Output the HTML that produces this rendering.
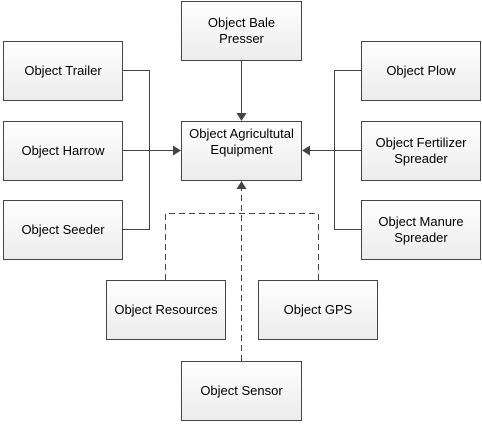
<!DOCTYPE html>
<html><head><style>
body{margin:0;background:#fff;width:482px;height:424px;position:relative;overflow:hidden;font-family:"Liberation Sans",Arial,sans-serif}
.b{position:absolute;box-sizing:border-box;border:1px solid #444;background:linear-gradient(#fff,#ececec);font-size:13px;color:#000;text-align:center;display:flex;align-items:center;justify-content:center;line-height:16px;padding:0 4px}
svg{position:absolute;left:0;top:0}
</style></head><body>
<svg width="482" height="424">
<g stroke="#444" stroke-width="1" fill="none">
<path d="M122.5 70.5H149.5V229.5H122.5M122.5 150.5H174"/>
<path d="M361.5 70.5H334.5V229.5H361.5M361.5 150.5H309"/>
<path d="M241.5 60V114"/>
<path d="M165.5 280V213.5H318.5V280M241.5 361V188" stroke-dasharray="6,4"/>
</g>
<g fill="#444">
<path d="M181 150.5l-8-5v10z"/>
<path d="M302 150.5l8-5v10z"/>
<path d="M241.5 121l-5-8h10z"/>
<path d="M241.5 181l-5 8h10z"/>
</g>
</svg>
<div class="b" style="left:181px;top:1px;width:121px;height:60px">Object Bale<br>Presser</div>
<div class="b" style="left:3px;top:41px;width:120px;height:60px">Object Trailer</div>
<div class="b" style="left:3px;top:121px;width:120px;height:60px">Object Harrow</div>
<div class="b" style="left:3px;top:200px;width:120px;height:60px">Object Seeder</div>
<div class="b" style="left:181px;top:121px;width:121px;height:60px;align-items:flex-start;padding-top:4px">Object Agricultutal<br>Equipment</div>
<div class="b" style="left:361px;top:41px;width:120px;height:60px">Object Plow</div>
<div class="b" style="left:361px;top:121px;width:120px;height:60px">Object Fertilizer<br>Spreader</div>
<div class="b" style="left:361px;top:200px;width:120px;height:60px">Object Manure<br>Spreader</div>
<div class="b" style="left:106px;top:280px;width:120px;height:60px">Object Resources</div>
<div class="b" style="left:258px;top:280px;width:120px;height:60px">Object GPS</div>
<div class="b" style="left:181px;top:361px;width:121px;height:60px">Object Sensor</div>
</body></html>
